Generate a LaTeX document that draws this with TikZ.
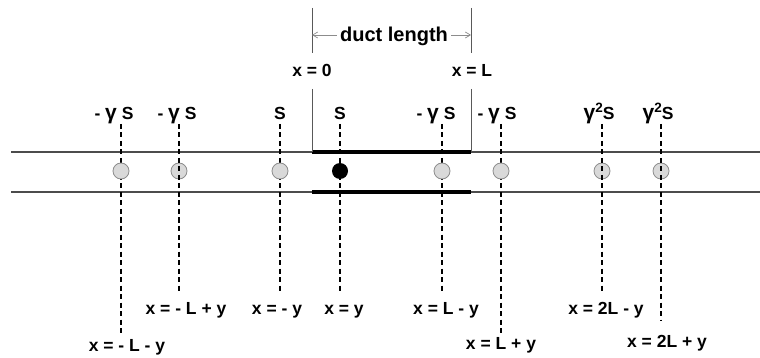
\documentclass[tikz,border=0pt]{standalone}
\usepackage{fontspec}
\setmainfont{Liberation Sans}
\usetikzlibrary{arrows.meta}
\newcommand{\gam}{{\fontsize{21}{20}\selectfont γ}}
\newcommand{\gsq}{\gam\raisebox{0.42em}{\fontsize{13.5}{14}\selectfont 2}S}
\tikzset{
  lbl/.style={font=\fontsize{17.5}{20}\selectfont\bfseries, inner sep=0pt, anchor=base},
  bigl/.style={font=\fontsize{20}{22}\selectfont\bfseries, inner sep=0pt, anchor=base},
  srcline/.style={line width=1.7pt, dash pattern=on 5pt off 3.5pt, black},
  duct/.style={line width=1.8pt, black!70},
  ductthick/.style={line width=4pt, black},
  imgpt/.style={circle, draw=black!45, fill=black!15, minimum size=16pt, inner sep=0pt, line width=0.8pt},
  srcpt/.style={circle, fill=black, minimum size=16pt, inner sep=0pt},
  endline/.style={line width=0.8pt, black!65},
  dimarrow/.style={-{Straight Barb[length=5pt,width=6pt]}, black!45, line width=0.7pt},
}
\begin{document}
\begin{tikzpicture}[x=1pt,y=-1pt]
\useasboundingbox (0,0) rectangle (760,358);

% duct walls
\coordinate (wl1) at (11,152);  \coordinate (wr1) at (760,152);
\coordinate (wl2) at (11,192);  \coordinate (wr2) at (760,192);
\draw[duct] (wl1) -- (wr1);
\draw[duct] (wl2) -- (wr2);
\coordinate (d0t) at (312,152); \coordinate (dLt) at (471,152);
\coordinate (d0b) at (312,192); \coordinate (dLb) at (471,192);
\draw[ductthick] (d0t) -- (dLt);
\draw[ductthick] (d0b) -- (dLb);

% duct ends
\coordinate (v0a) at (312,8);  \coordinate (v0b) at (312,53);
\coordinate (v0c) at (312,89); 
\coordinate (vLa) at (471,8);  \coordinate (vLb) at (471,53);
\coordinate (vLc) at (471,89);
\draw[endline] (v0a) -- (v0b);
\draw[endline] (v0c) -- (d0t);
\draw[endline] (vLa) -- (vLb);
\draw[endline] (vLc) -- (dLt);

\node[bigl] (dl) at (394,42) {duct length};
\coordinate (al) at (312,35); \coordinate (ar) at (471,35);
\draw[dimarrow] (dl.west |- al) ++(-3,0) -- (al);
\draw[dimarrow] (dl.east |- ar) ++(3,0) -- (ar);

\node[lbl] (x0) at (312,77) {x = 0};
\node[lbl] (xL) at (472,77) {x = L};

% image sources: circles under the line for 2, 7, 8
\node[imgpt] (c2) at (179,171) {};
\node[imgpt] (c7) at (602,171) {};
\node[imgpt] (c8) at (661,171) {};

\foreach \i/\cx/\tx/\txt/\ey/\bx/\by/\btxt in {
  1/121/114/{- \gam\ S}/333/127/351/{x = - L - y},
  2/179/177/{- \gam\ S}/292/186/314/{x = - L + y},
  3/280/280/{S}/292/277/314/{x = - y},
  4/340/340/{S}/292/344/314/{x = y},
  5/442/436/{- \gam\ S}/292/446/314/{x = L - y},
  6/501/497/{- \gam\ S}/333/501/349/{x = L + y},
  7/602/599/{\gsq}/292/606/314/{x = 2L - y},
  8/661/658/{\gsq}/321/667/347/{x = 2L + y}}{
  \node[lbl] (t\i) at (\tx,120) {\txt};
  \node[lbl] (b\i) at (\bx,\by) {\btxt};
  \coordinate (s\i) at (\cx,124);
  \coordinate (e\i) at (\cx,\ey);
  \draw[srcline] (s\i) -- (e\i);
}

\node[imgpt] (c1) at (121,171) {};
\node[imgpt] (c3) at (280,171) {};
\node[srcpt] (c4) at (340,171) {};
\node[imgpt] (c5) at (442,171) {};
\node[imgpt] (c6) at (501,171) {};
\end{tikzpicture}
\end{document}
